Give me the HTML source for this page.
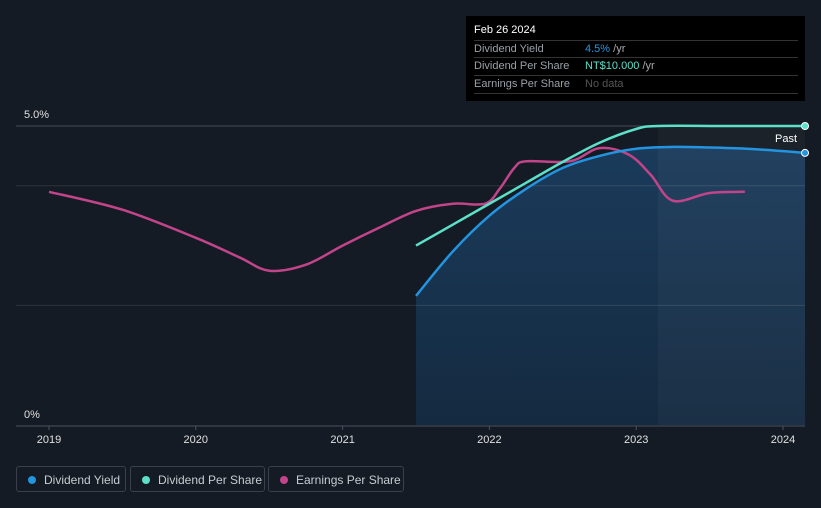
<!DOCTYPE html>
<html><head><meta charset="utf-8"><style>
body{margin:0;background:#151b24;font-family:"Liberation Sans",sans-serif;}
#wrap{position:relative;width:821px;height:508px;overflow:hidden;background:#151b24}
.tt{position:absolute;left:466px;top:16px;width:339px;height:85px;background:#000;color:#fff;font-size:11px}
.row{position:absolute;left:8px;width:324px;border-top:1px solid #333;height:17px;line-height:17px;color:#9aa0a8}
.leg{position:absolute;top:466px;height:26px;border:1px solid #3a414c;border-radius:3px;color:#c8ccd2;font-size:12px;line-height:26px;box-sizing:border-box}
.dot{display:inline-block;width:8px;height:8px;border-radius:50%;margin:0 8px 0 11px;vertical-align:0}
</style></head><body>
<div id="wrap">
<svg id="svg" width="821" height="508" style="position:absolute;left:0;top:0">
<defs><linearGradient id="g" x1="0" y1="0" x2="0" y2="1"><stop offset="0" stop-color="#1b3b5b"/><stop offset="1" stop-color="#142a40"/></linearGradient></defs>
</svg>
<div class="tt">
 <div style="position:absolute;left:8px;top:8px;font-size:11px">Feb 26 2024</div>
 <div class="row" style="top:24px">Dividend Yield<span style="position:absolute;left:111px;color:#2394df">4.5% <span style="color:#aaa">/yr</span></span></div>
 <div class="row" style="top:41px">Dividend Per Share<span style="position:absolute;left:111px;color:#5ce0c8">NT$10.000 <span style="color:#aaa">/yr</span></span></div>
 <div class="row" style="top:59px;border-bottom:1px solid #333">Earnings Per Share<span style="position:absolute;left:111px;color:#555">No data</span></div>
</div>
<div class="leg" style="left:16px;width:110px"><span class="dot" style="background:#2394df"></span>Dividend Yield</div>
<div class="leg" style="left:130px;width:135px"><span class="dot" style="background:#5ce0c8"></span>Dividend Per Share</div>
<div class="leg" style="left:268px;width:136px"><span class="dot" style="background:#c2448a"></span>Earnings Per Share</div>
</div>
<script>
const years=[2019,2020,2021,2022,2023,2024];
const yieldT=[2021.5,2021.75,2022.0,2022.25,2022.5,2022.75,2023.0,2023.25,2023.5,2023.75,2024.0,2024.15];
const yieldV=[2.16,2.9,3.5,3.95,4.3,4.5,4.62,4.65,4.64,4.62,4.58,4.55];
const dpsT=[2021.5,2021.75,2022.0,2022.25,2022.5,2022.75,2023.0,2023.15,2023.6,2024.15];
const dpsV=[3.0,3.35,3.7,4.05,4.4,4.72,4.95,5.0,5.0,5.0];
const epsT=[2019,2019.5,2020,2020.3,2020.5,2020.75,2021,2021.25,2021.5,2021.75,2021.97,2022.07,2022.17,2022.25,2022.55,2022.75,2022.95,2023.1,2023.25,2023.5,2023.74];
const epsV=[3.9,3.6,3.13,2.8,2.58,2.68,3.0,3.3,3.58,3.7,3.7,3.95,4.3,4.41,4.41,4.63,4.52,4.18,3.75,3.88,3.9];
const X=t=>49+(t-2019)*146.8, Y=v=>425-v*59.8;
const svg=document.getElementById('svg');const NS='http://www.w3.org/2000/svg';
function mk(tag,attrs,name){const e=document.createElementNS(NS,tag);for(const k in attrs)e.setAttribute(k,attrs[k]);


svg.appendChild(e);return e;}
function path(T,V){const p=T.map((t,i)=>[X(t),Y(V[i])]);let d='M'+p[0];for(let i=0;i<p.length-1;i++){const p0=p[i-1]||p[i],p1=p[i],p2=p[i+1],p3=p[i+2]||p2;
d+=' C'+(p1[0]+(p2[0]-p0[0])/6)+','+(p1[1]+(p2[1]-p0[1])/6)+' '+(p2[0]-(p3[0]-p1[0])/6)+','+(p2[1]-(p3[1]-p1[1])/6)+' '+p2;}return d;}
const yp=path(yieldT,yieldV);
mk('path',{d:yp+' L'+X(yieldT[yieldT.length-1])+','+Y(0)+' L'+X(yieldT[0])+','+Y(0)+'Z',fill:'url(#g)'},'yield-area');
mk('rect',{x:658,y:Y(5),width:147,height:Y(0)-Y(5),fill:'#ffffff',opacity:0.03},'past-region');
[5,4,2].forEach(v=>mk('line',{x1:16,x2:805,y1:Y(v),y2:Y(v),stroke:'#ffffff',opacity:v==5?0.22:0.1},'gridline'));
mk('line',{x1:16,x2:805,y1:426,y2:426,stroke:'#4a5160'},'x-axis');
years.forEach(y=>{mk('line',{x1:X(y),x2:X(y),y1:426,y2:430,stroke:'#4a5160'},'x-tick');
const t=mk('text',{x:X(y),y:443,fill:'#e0e0e0','font-size':11,'text-anchor':'middle'},'x-tick-label');t.textContent=y;});
[[5,'5.0%',118],[0,'0%',418]].forEach(a=>{const t=mk('text',{x:24,y:a[2],fill:'#e0e0e0','font-size':11},'y-tick-label');t.textContent=a[1];});
mk('path',{d:path(epsT,epsV),fill:'none',stroke:'#c2448a','stroke-width':2.5},'eps-line');
mk('path',{d:path(dpsT,dpsV),fill:'none',stroke:'#5ce0c8','stroke-width':2.5},'dps-line');
mk('path',{d:yp,fill:'none',stroke:'#2394df','stroke-width':2.5},'yield-line');
mk('circle',{cx:X(2024.15),cy:Y(dpsV[dpsV.length-1]),r:3.5,fill:'#5ce0c8',stroke:'#fff','stroke-width':1},'dps-end-dot');
mk('circle',{cx:X(2024.15),cy:Y(yieldV[yieldV.length-1]),r:3.5,fill:'#2394df',stroke:'#fff','stroke-width':1},'yield-end-dot');
const p=mk('text',{x:797,y:142,fill:'#fff','font-size':11,'text-anchor':'end'},'past-label');p.textContent='Past';
</script>
</body></html>
